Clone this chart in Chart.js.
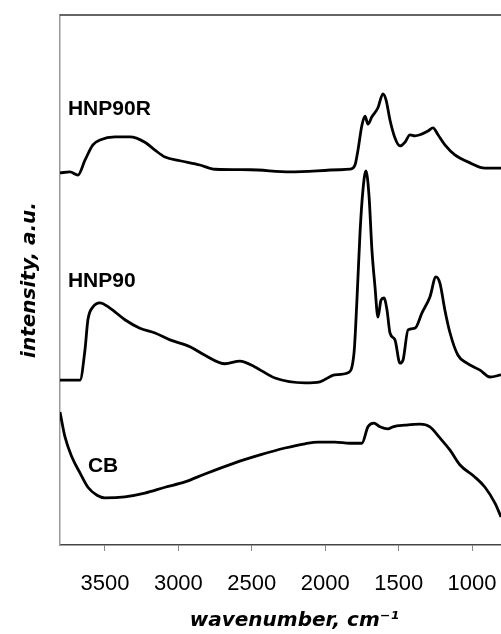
<!DOCTYPE html>
<html>
<head>
<meta charset="utf-8">
<script src="https://cdn.jsdelivr.net/npm/chart.js@4.4.1/dist/chart.umd.min.js"></script>
<style>
  html, body { margin: 0; padding: 0; background: #fff; }
  #wrap { width: 501px; height: 634px; }
</style>
</head>
<body>
<div id="wrap"><canvas id="myChart"></canvas></div>
<script>
// wavenumbers (cm-1) and intensities (a.u.)
var hnp90rWn = [3806,3738,3684,3636,3582,3534,3432,3330,3228,3159,3091,2989,2853,2751,2513,2240,1900,1832,1797,1777,1750,1729,1709,1682,1641,1607,1586,1559,1525,1491,1457,1423,1389,1355,1300,1266,1232,1185,1117,1014,912,803];
var hnp90rVal = [70.2,70.4,69.8,72.6,75.5,76.4,77.0,77.0,76.0,74.5,73.2,72.5,71.7,70.9,70.8,70.4,70.8,70.9,71.7,74.5,79.2,80.9,79.4,80.8,82.5,85.1,84.0,80.2,76.8,75.3,76.0,77.4,77.2,77.4,78.1,78.7,77.4,75.5,73.6,72.1,71.1,71.1];

var hnp90Wn = [3806,3670,3636,3616,3582,3534,3466,3364,3262,3159,3057,2921,2819,2683,2581,2479,2342,2138,2036,1934,1845,1804,1784,1763,1743,1723,1702,1682,1661,1641,1620,1600,1579,1559,1525,1491,1470,1436,1389,1341,1287,1246,1219,1185,1150,1096,1035,946,878,803];
var hnp90Val = [31.1,31.1,36.8,42.5,44.9,45.7,44.7,42.5,40.9,40.0,38.7,37.4,35.8,34.2,34.7,33.6,31.5,30.6,30.8,32.1,32.5,36.2,46.2,58.9,67.0,70.6,66.0,55.7,48.7,43.0,46.2,46.6,44.3,40.0,38.7,34.3,34.9,40.6,40.9,43.8,46.8,50.6,49.4,44.3,40.0,35.8,34.3,33.0,31.7,32.1];

var cbWn = [3806,3772,3725,3670,3616,3554,3500,3364,3228,3091,2955,2819,2615,2444,2274,2138,2049,1934,1832,1750,1709,1668,1627,1573,1539,1457,1355,1287,1219,1150,1082,980,912,844,803];
var cbVal = [25.1,20.4,16.6,13.6,10.9,9.4,8.9,9.1,9.8,10.9,11.9,13.4,15.5,17.0,18.3,19.1,19.4,19.4,19.2,19.2,22.3,23.0,22.3,21.9,22.3,22.6,22.8,22.3,20.2,17.9,15.1,12.8,10.9,7.9,5.3];

var xTicks = [3500,3000,2500,2000,1500,1000];

// sample labels: name, wavenumber, intensity (baseline of text)
var sampleNames = ['HNP90R','HNP90','CB'];
var sampleWn = [3752,3752,3616];
var sampleVal = [81.1,48.7,13.8];

function pts(xs, ys){
  return xs.map(function(x,i){ return {x:x, y:ys[i]}; });
}

function lineSet(label, xs, ys){
  return {
    label: label,
    data: pts(xs, ys),
    borderColor: '#000',
    borderWidth: 2.8,
    pointRadius: 0,
    cubicInterpolationMode: 'monotone',
    fill: false
  };
}

var extras = {
  id: 'extras',
  afterDatasetsDraw: function(chart){
    var c = chart.ctx, a = chart.chartArea;
    var xs = chart.scales.x, ys = chart.scales.y;
    c.save();
    // top frame line
    c.strokeStyle = '#333';
    c.lineWidth = 1.5;
    c.beginPath();
    c.moveTo(a.left, a.top);
    c.lineTo(a.right, a.top);
    c.stroke();
    // sample names
    c.fillStyle = '#000';
    c.font = 'bold 21px "Liberation Sans", Arial, sans-serif';
    c.textBaseline = 'alphabetic';
    c.textAlign = 'left';
    sampleNames.forEach(function(n,i){
      c.fillText(n, xs.getPixelForValue(sampleWn[i]), ys.getPixelForValue(sampleVal[i]));
    });
    c.restore();
  }
};

var ctx = document.querySelector('#myChart').getContext('2d');
var myChart = new Chart(ctx, {
  type: 'line',
  data: {
    datasets: [
      lineSet('HNP90R', hnp90rWn, hnp90rVal),
      lineSet('HNP90', hnp90Wn, hnp90Val),
      lineSet('CB', cbWn, cbVal)
    ]
  },
  options: {
    responsive: true,
    maintainAspectRatio: false,
    animation: false,
    layout: { padding: { top: 15, right: 0, bottom: 0, left: 0 } },
    plugins: {
      legend: { display: false },
      tooltip: { enabled: false }
    },
    scales: {
      x: {
        type: 'linear',
        reverse: true,
        min: 803,
        max: 3806,
        afterBuildTicks: function(scale){
          scale.ticks = xTicks.map(function(v){ return {value: v}; });
        },
        afterFit: function(scale){
          scale.height = 89;
          scale.paddingLeft = 0;
          scale.paddingRight = 0;
        },
        grid: { drawOnChartArea: false, drawTicks: true, tickLength: 6, tickColor: '#888', tickWidth: 1 },
        border: { display: true, color: '#444', width: 1.5 },
        ticks: {
          color: '#000',
          padding: 20,
          maxRotation: 0,
          autoSkip: false,
          font: { family: '"Liberation Sans", Arial, sans-serif', size: 22 },
          callback: function(v){ return v; }
        },
        title: {
          display: true,
          // leading spaces nudge the centred title to the right, as in the original
          text: '    wavenumber, cm\u207B\u00B9',
          color: '#000',
          padding: { top: 0, bottom: 1 },
          font: { family: '"DejaVu Sans", sans-serif', size: 20, weight: 'bold', style: 'italic' }
        }
      },
      y: {
        min: 0,
        max: 100,
        afterFit: function(scale){ scale.width = 60; },
        grid: { drawOnChartArea: false, drawTicks: false },
        border: { display: true, color: '#999', width: 1.5 },
        ticks: { display: false },
        title: {
          display: true,
          text: 'intensity, a.u.',
          color: '#000',
          padding: { top: 18, bottom: 0 },
          font: { family: '"DejaVu Sans", sans-serif', size: 20, weight: 'bold', style: 'italic' }
        }
      }
    }
  },
  plugins: [extras]
});
</script>
</body>
</html>
